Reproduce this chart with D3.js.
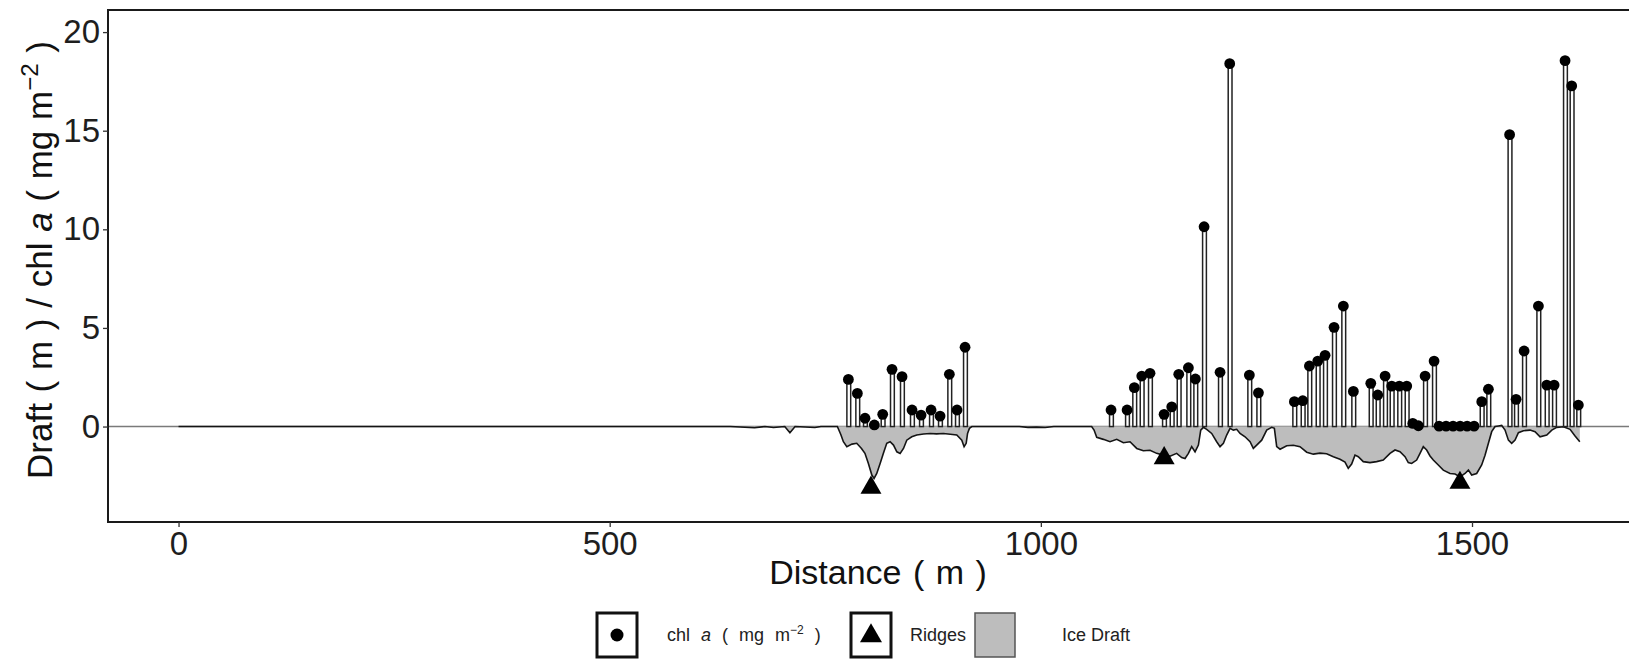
<!DOCTYPE html>
<html>
<head>
<meta charset="utf-8">
<script src="https://cdn.jsdelivr.net/npm/d3@7"></script>
<style>
  html, body { margin: 0; padding: 0; background: #fff; }
  svg { display: block; font-family: "Liberation Sans", Arial, Helvetica, sans-serif; }
</style>
</head>
<body>
<svg id="chart" width="1629" height="666"></svg>
<script>
// Axis ticks
const xTicks = [0, 500, 1000, 1500];
const yTicks = [0, 5, 10, 15, 20];

// Chlorophyll a sampling positions (m) and concentrations (mg m^-2)
const chlDist = [776.8, 787.2, 796.1, 806.9, 816.6, 827.4, 839.0, 850.6, 861.1, 872.7, 883.1, 893.9, 902.8, 912.1,
  1081.4, 1100.0, 1108.4, 1117.0, 1126.6, 1142.9, 1151.8, 1159.9, 1171.1, 1179.2, 1189.3, 1207.8, 1219.0, 1241.8, 1252.3,
  1294.0, 1303.7, 1311.4, 1321.1, 1329.6, 1340.0, 1350.8, 1362.4, 1382.6, 1390.7, 1399.2, 1406.9, 1415.7, 1424.3,
  1431.3, 1437.8, 1445.6, 1456.0, 1461.8, 1469.9, 1478.0, 1486.2, 1494.3, 1502.4, 1511.3, 1519.0,
  1543.6, 1551.1, 1560.4, 1577.0, 1586.7, 1595.2, 1607.9, 1615.6, 1623.3];
const chlValue = [2.39, 1.68, 0.42, 0.08, 0.62, 2.90, 2.53, 0.84, 0.58, 0.84, 0.53, 2.65, 0.84, 4.02,
  0.84, 0.84, 1.97, 2.56, 2.70, 0.62, 1.00, 2.65, 2.98, 2.41, 10.13, 2.75, 18.40, 2.61, 1.71,
  1.26, 1.31, 3.07, 3.32, 3.61, 5.03, 6.11, 1.78, 2.19, 1.60, 2.56, 2.05, 2.05, 2.05,
  0.16, 0.04, 2.56, 3.32, 0.02, 0.02, 0.02, 0.02, 0.02, 0.02, 1.26, 1.89,
  14.80, 1.38, 3.83, 6.11, 2.10, 2.10, 18.55, 17.27, 1.09];

// Pressure ridges (m, draft m)
const ridgeDist = [803, 1143, 1486];
const ridgeDepth = [-3.1, -1.6, -2.85];

// Ice draft profile along the transect (m, negative = below sea level)
const draftDist = [0, 640, 668, 680, 690, 703, 709, 715, 738, 745, 764, 768, 771, 775, 781, 786.5, 792, 796, 800, 804,
  806.6, 809.7, 813.6, 817.4, 821.3, 825.2, 829.1, 833, 836.8, 840.7, 844.5, 850.3, 856.1, 864, 871.6, 879, 887, 895,
  902.5, 908.3, 911, 913.4, 915, 917.2, 920, 975, 985, 995, 1005, 1015, 1045.5, 1058.9, 1061.7, 1064.8, 1072.5, 1080.2,
  1088, 1095.7, 1103.4, 1111.2, 1118.9, 1126.6, 1134.3, 1142.1, 1149.8, 1157.5, 1163.3, 1167.2, 1171.1, 1174.9,
  1178.8, 1182.7, 1185.4, 1188.5, 1192.3, 1198.1, 1203.9, 1207.8, 1211.7, 1215.5, 1219.4, 1223.2, 1227.1, 1231,
  1236.8, 1242.6, 1246.4, 1250.3, 1256.1, 1261.9, 1267.7, 1270.8, 1273.5, 1277.4, 1285.1, 1292.8, 1300.5, 1308.3,
  1316, 1323.7, 1331.4, 1339.2, 1346.9, 1352.7, 1356.5, 1360.4, 1364.3, 1368.1, 1373.9, 1381.7, 1389.4, 1397.1,
  1404.9, 1410.7, 1416.5, 1422.3, 1426.1, 1430, 1435.8, 1439.7, 1443.5, 1447.4, 1451.3, 1455.1, 1460.9, 1466.7,
  1474.5, 1480.3, 1486.1, 1491.9, 1495.8, 1499.6, 1505.4, 1511.2, 1515.1, 1519, 1522.8, 1526.7, 1530.6, 1534.4,
  1538.3, 1542.2, 1546, 1549.9, 1553.8, 1559.6, 1567.3, 1573.1, 1578.9, 1586.7, 1592.5, 1598.3, 1606, 1613.7,
  1619.5, 1625];
const draftValue = [0, 0, -0.06, 0, -0.05, 0, -0.31, 0, -0.05, 0, 0, -0.4, -0.77, -1.02, -0.89, -0.85, -1.11, -1.36, -1.87, -2.46,
  -2.63, -2.38, -1.87, -1.36, -0.85, -0.77, -0.94, -1.28, -1.36, -1.11, -0.69, -0.52, -0.43, -0.38, -0.35, -0.37, -0.35, -0.39,
  -0.43, -0.69, -1.02, -0.85, -0.35, -0.09, 0, 0, -0.04, -0.03, -0.05, 0, 0, 0, -0.18, -0.55, -0.65, -0.77,
  -0.65, -0.82, -0.77, -1.11, -1.23, -1.2, -1.36, -1.45, -1.5, -1.36, -1.57, -1.62, -1.36, -1.02,
  -1.28, -0.94, -0.18, -0.04, -0.14, -0.35, -0.77, -1.02, -0.85, -0.43, -0.09, -0.18, -0.14, -0.35,
  -0.52, -0.77, -1.11, -0.94, -0.69, -0.18, -0.04, -0.09, -1.02, -1.15, -0.97, -0.95, -1.02, -1.3,
  -1.4, -1.35, -1.38, -1.53, -1.66, -1.8, -2.12, -1.9, -1.45, -1.53, -1.78, -1.83, -1.78, -1.7,
  -1.36, -1.19, -1.28, -1.53, -1.83, -1.87, -1.7, -1.36, -1.02, -1.19, -1.49, -1.7, -1.95, -2.21,
  -2.38, -2.41, -2.55, -2.38, -2.21, -2.46, -2.38, -1.95, -1.45, -0.85, -0.26, 0, 0.03, 0.06,
  -0.18, -0.69, -0.85, -0.69, -0.31, -0.21, -0.18, -0.26, -0.52, -0.43, -0.18, -0.04, -0.01, -0.14,
  -0.48, -0.77];

const chl = chlDist.map((d, i) => ({ x: d, v: chlValue[i] }));
const ridges = ridgeDist.map((d, i) => ({ x: d, v: ridgeDepth[i] }));
const draft = draftDist.map((d, i) => ({ x: d, v: draftValue[i] }));

const svg = d3.select("#chart");

// Panel geometry
const panel = { left: 108, top: 10, bottom: 522, right: 1660 };
const x = d3.scaleLinear().domain([-81.8, 1718]).range([panel.left, panel.right]);
const y = d3.scaleLinear().domain([-4.84, 21.12]).range([panel.bottom, panel.top]);

svg.append("defs").append("clipPath").attr("id", "panel-clip")
  .append("rect")
  .attr("x", panel.left).attr("y", panel.top)
  .attr("width", panel.right - panel.left).attr("height", panel.bottom - panel.top);

const plot = svg.append("g").attr("clip-path", "url(#panel-clip)");

// Sea-level reference line
plot.append("line")
  .attr("x1", panel.left).attr("x2", panel.right)
  .attr("y1", y(0)).attr("y2", y(0))
  .attr("stroke", "#7a7a7a").attr("stroke-width", 1.5);

// Ice draft area and its outline
plot.append("path")
  .datum(draft)
  .attr("d", d3.area().x(d => x(d.x)).y0(y(0)).y1(d => y(d.v)))
  .attr("fill", "#bdbdbd");
plot.append("path")
  .datum(draft)
  .attr("d", d3.line().x(d => x(d.x)).y(d => y(d.v)))
  .attr("fill", "none").attr("stroke", "#141414").attr("stroke-width", 1.6);

// Chlorophyll stems
plot.append("g").selectAll("rect").data(chl).join("rect")
  .attr("x", d => x(d.x) - 1.5)
  .attr("width", 3.8)
  .attr("y", d => y(Math.max(d.v, 0)))
  .attr("height", d => Math.abs(y(0) - y(d.v)))
  .attr("fill", "#ffffff")
  .attr("stroke", "#222")
  .attr("stroke-width", 1.5);

// Chlorophyll points
plot.append("g").selectAll("circle").data(chl).join("circle")
  .attr("cx", d => x(d.x)).attr("cy", d => y(d.v))
  .attr("r", 5.4).attr("fill", "#000");

// Ridge markers
const tri = d3.symbol().type(d3.symbolTriangle).size(190);
plot.append("g").selectAll("path").data(ridges).join("path")
  .attr("transform", d => `translate(${x(d.x)},${y(d.v)})`)
  .attr("d", tri).attr("fill", "#000");

// Panel border
svg.append("rect")
  .attr("x", panel.left).attr("y", panel.top)
  .attr("width", panel.right - panel.left).attr("height", panel.bottom - panel.top)
  .attr("fill", "none").attr("stroke", "#1a1a1a").attr("stroke-width", 2);

// Axes
const xAxis = svg.append("g")
  .attr("transform", `translate(0,${panel.bottom})`)
  .call(d3.axisBottom(x).tickValues(xTicks).tickFormat(d3.format("d")).tickSize(5).tickPadding(5));
const yAxis = svg.append("g")
  .attr("transform", `translate(${panel.left},0)`)
  .call(d3.axisLeft(y).tickValues(yTicks).tickFormat(d3.format("d")).tickSize(5).tickPadding(3));
[xAxis, yAxis].forEach(a => {
  a.select(".domain").remove();
  a.selectAll(".tick line").attr("stroke", "#333").attr("stroke-width", 1.3);
  a.selectAll(".tick text").attr("fill", "#1e1e1e").style("font-size", "33px")
    .style("font-family", '"Liberation Sans", Arial, sans-serif');
});

// Axis titles
svg.append("text")
  .attr("x", 878).attr("y", 584)
  .attr("text-anchor", "middle")
  .style("font-size", "34px").style("word-spacing", "2px").attr("fill", "#111")
  .text("Distance ( m )");

const yTitle = svg.append("text")
  .attr("transform", `translate(52,${(panel.top + panel.bottom) / 2 - 6}) rotate(-90)`)
  .attr("text-anchor", "middle")
  .style("font-size", "35px").style("word-spacing", "1px").attr("fill", "#111");
yTitle.append("tspan").text("Draft ( m ) / chl ");
yTitle.append("tspan").style("font-style", "italic").text("a");
yTitle.append("tspan").text(" ( mg m");
yTitle.append("tspan").attr("dy", -14).style("font-size", "24px").text("\u22122");
yTitle.append("tspan").attr("dy", 14).text(" )");

// Legend
const legend = svg.append("g").attr("transform", "translate(597,613)");
const keyW = 40, keyH = 44;
const items = [
  { kind: "dot", x: 0 },
  { kind: "tri", x: 254 },
  { kind: "area", x: 378 }
];
items.forEach(it => {
  const g = legend.append("g").attr("transform", `translate(${it.x},0)`);
  if (it.kind === "area") {
    g.append("rect").attr("width", keyW).attr("height", keyH)
      .attr("fill", "#bdbdbd").attr("stroke", "#555").attr("stroke-width", 1.5);
  } else {
    g.append("rect").attr("width", keyW).attr("height", keyH)
      .attr("fill", "#fff").attr("stroke", "#111").attr("stroke-width", 3);
    if (it.kind === "dot") {
      g.append("circle").attr("cx", keyW / 2).attr("cy", keyH / 2).attr("r", 6.5).attr("fill", "#000");
    } else {
      g.append("path").attr("transform", `translate(${keyW / 2},${keyH / 2 + 1})`)
        .attr("d", d3.symbol().type(d3.symbolTriangle).size(210)).attr("fill", "#000");
    }
  }
});
const lab1 = legend.append("text").attr("x", 70).attr("y", keyH / 2 + 6)
  .style("font-size", "18px").style("word-spacing", "6px").attr("fill", "#222");
lab1.append("tspan").text("chl ");
lab1.append("tspan").style("font-style", "italic").text("a");
lab1.append("tspan").text(" ( mg m");
lab1.append("tspan").attr("dy", -7).style("font-size", "12px").text("\u22122");
lab1.append("tspan").attr("dy", 7).text(" )");
legend.append("text").attr("x", 313).attr("y", keyH / 2 + 6)
  .style("font-size", "18px").attr("fill", "#222").text("Ridges");
legend.append("text").attr("x", 465).attr("y", keyH / 2 + 6)
  .style("font-size", "18px").attr("fill", "#222").text("Ice Draft");
</script>
</body>
</html>
